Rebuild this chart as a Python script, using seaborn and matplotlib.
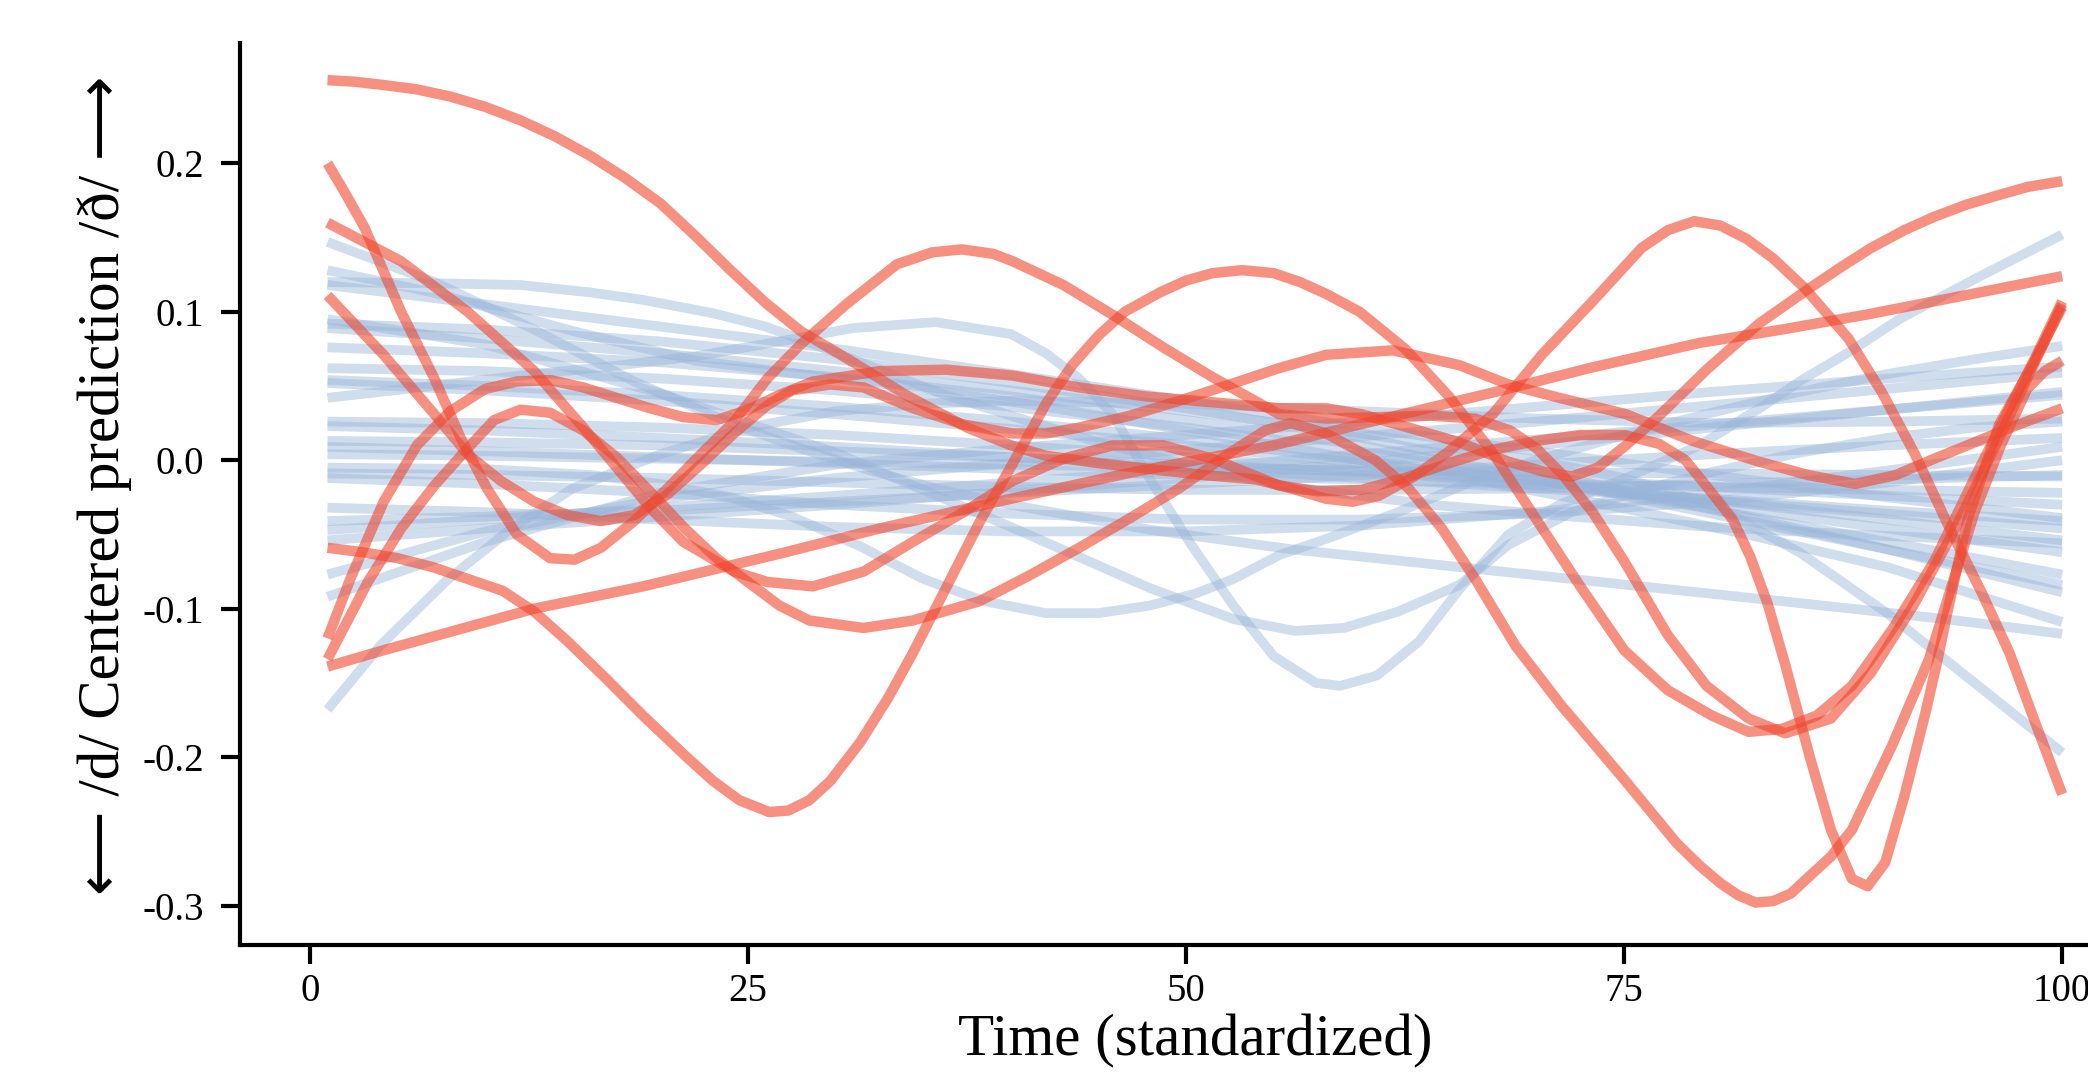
import matplotlib
matplotlib.use("Agg")
import matplotlib.pyplot as plt
from matplotlib.ticker import FormatStrFormatter
import pandas as pd
import seaborn as sns

# ---- highlighted (red) trajectories: time / centered prediction ----
red_a_t = [1, 2.5, 4, 6, 8, 10, 12, 14, 16, 18, 20, 22, 24, 26, 28, 31, 34, 37.5, 40, 42, 45, 48, 51, 54,
           56, 58, 59.5, 61, 63, 65, 67.5, 70.3, 73.2, 76, 77.5, 79, 80.5, 82, 83.5, 85.3, 87.8, 89.7, 91.6,
           93.5, 95.4, 97, 98.5, 100]
red_a_y = [.256, .255, .253, .25, .245, .238, .229, .218, .205, .19, .173, .151, .128, .106, .087, .066, .044,
           .022, .01, .003, -.002, -.006, -.010, -.013, -.019, -.026, -.028, -.024, -.011, .006, .031, .071,
           .107, .143, .155, .161, .158, .149, .136, .116, .082, .046, .004, -.044, -.089, -.13, -.178, -.225]

red_b_t = [1, 2, 3.1, 5.2, 7.1, 8.6, 10.1, 11.8, 13.7, 15.1, 16.6, 18.5, 20.4, 22.3, 24.2, 26.1, 28, 30.6,
           33.5, 35.5, 37.2, 39, 40.1, 43, 45.8, 48.7, 51.5, 55.3, 58, 61, 64, 66.5, 68.5, 70, 71.5, 73.2,
           75, 77.5, 79.7, 82.1, 84.2, 86.8, 89.1, 91.5, 93.9, 96, 98, 100]
red_b_y = [.2, .18, .157, .1, .055, .015, -.019, -.05, -.066, -.067, -.059, -.041, -.019, .004, .026, .055,
           .078, .105, .132, .14, .142, .139, .134, .118, .098, .076, .056, .031, .028, .029, .03, .028, .02,
           .008, -.01, -.035, -.068, -.118, -.152, -.174, -.184, -.174, -.143, -.098, -.046, .005, .055, .105]

red_c_t = [1, 3, 5, 7, 9, 11, 12.8, 14.7, 16.8, 19, 21.5, 23, 24.5, 26.2, 27.3, 28.5, 29.7, 31.4, 33, 34.4,
           36.3, 38.2, 40.5, 42, 43.5, 45, 46.5, 48.5, 50, 51.5, 53.2, 55, 56.5, 58, 59.9, 62.5, 65, 67.5,
           70, 72.5, 75, 77.5, 80, 82.1, 84, 86, 88, 90.3, 92.7, 95, 97, 98.5, 100]
red_c_y = [-.059, -.062, -.066, -.072, -.08, -.088, -.102, -.122, -.146, -.172, -.2, -.216, -.229, -.237,
           -.236, -.229, -.216, -.19, -.16, -.13, -.086, -.042, .006, .038, .064, .084, .1, .113, .121, .126,
           .128, .126, .12, .112, .1, .075, .043, .005, -.04, -.085, -.128, -.155, -.172, -.183, -.181, -.172,
           -.152, -.114, -.068, -.012, .035, .07, .107]

red_d_t = [1, 5.2, 9, 12.8, 15.6, 17.5, 19.4, 21.3, 24.2, 26.1, 28.7, 31.6, 34.4, 37.3, 40.1, 43, 45.8,
           48.7, 51.5, 55.3, 57.5, 60, 62.5, 65, 67.5, 70, 72.5, 75, 77, 78.5, 79.8, 81.2, 82.2, 83.2, 84.2,
           85.6, 86.8, 88, 88.9, 89.9, 91, 92.2, 92.9, 93.4, 94.6, 96.4, 98.3, 100]
red_d_y = [.160, .134, .1, .06, .022, -.005, -.032, -.055, -.075, -.082, -.085, -.075, -.055, -.035, -.014,
           .001, .01, .01, .001, -.017, -.021, -.02, -.012, -.002, .007, .013, .017, .017, .011, .0, -.019,
           -.04, -.065, -.097, -.138, -.2, -.249, -.282, -.287, -.271, -.226, -.17, -.134, -.105, -.04,
           .024, .064, .103]

red_e_t = [1, 4.2, 7.1, 9, 10.9, 12.8, 14.7, 16.6, 18.5, 20.4, 22.3, 24.2, 26.1, 27.5, 29.7, 31.6, 34.4,
           37.3, 40.1, 42, 43.9, 46.8, 49.6, 52.5, 55.3, 58, 61.8, 65.6, 68.4, 71.3, 75.1, 78.9, 82.7, 85.5,
           88.2, 90.5, 92.7, 95, 97.5, 100]
red_e_y = [.111, .071, .031, .004, -.014, -.028, -.037, -.041, -.037, -.023, -.003, .018, .037, .047, .051,
           .049, .035, .024, .018, .018, .022, .03, .04, .051, .062, .071, .074, .064, .051, .042, .031, .013,
           -.001, -.01, -.016, -.01, .001, .012, .024, .035]

red_f_t = [1, 2.3, 4.2, 6.1, 8, 10, 11.8, 13.7, 15.6, 17.5, 19.4, 21.3, 23.2, 25, 26.8, 28.7, 32.5, 36.3,
           40.1, 43.9, 47.7, 51.5, 55.3, 58, 60, 62.7, 65.6, 68.4, 70.5, 72, 73.5, 75.1, 77, 79.8, 82.7, 85.6,
           87.5, 89.1, 91, 92.7, 94.5, 96.2, 98, 100]
red_f_y = [-.12, -.08, -.028, .01, .033, .048, .053, .054, .049, .042, .035, .029, .027, .034, .044, .053,
           .06, .061, .057, .049, .043, .039, .035, .035, .031, .022, .012, -.001, -.008, -.011, -.005, .01,
           .03, .062, .092, .116, .131, .143, .155, .164, .172, .178, .184, .188]

red_g_t = [1, 3.3, 5.2, 7.1, 9, 10.5, 12, 13.7, 15.6, 17.5, 19.4, 21.4, 23.2, 25.1, 26.8, 28.5, 31.6, 34.4,
           38.2, 41, 43.9, 46.8, 49.6, 52.5, 54.5, 56, 58, 60.8, 62.7, 64.6, 66.5, 68.8, 71.4, 75, 78, 79.3,
           80.5, 81.5, 82.5, 83.5, 84.5, 85.6, 86.8, 88, 90.3, 92.4, 95, 96.5, 98, 99, 100]
red_g_y = [-.134, -.082, -.046, -.017, .008, .027, .034, .032, .02, .002, -.021, -.046, -.066, -.083, -.098,
           -.108, -.113, -.108, -.095, -.078, -.059, -.039, -.019, .005, .02, .025, .018, .0, -.019, -.046,
           -.08, -.125, -.165, -.215, -.258, -.273, -.285, -.293, -.298, -.297, -.292, -.28, -.267, -.249,
           -.192, -.134, -.035, .01, .048, .06, .067]

red_h_t = [1, 4.2, 12.8, 19, 26.8, 32.5, 40, 47, 55, 62, 68, 73, 79.3, 84, 88.8, 94, 100]
red_h_y = [-.139, -.128, -.1, -.085, -.063, -.046, -.026, -.008, .01, .03, .047, .062, .079, .088, .098,
           .11, .124]

# ---- background (blue) trajectories ----
blue_v_t = [1, 7, 12, 17, 22, 26.8, 31, 35.7, 40, 42, 43.9, 45.8, 47.9, 50.3, 52.7, 55, 57.4, 58.8, 60.9,
            63.3, 65.6, 68.4, 71.3, 75.1, 79.3, 83, 85, 88, 90.7, 95, 100]
blue_v_y = [.042, .05, .057, .063, .07, .08, .089, .093, .085, .072, .055, .031, -.012, -.057, -.098, -.132,
            -.15, -.152, -.145, -.122, -.087, -.05, -.03, -.012, .01, .037, .053, .074, .095, .122, .152]

blue_u43_t = [1, 10, 16, 20, 24, 27.5, 31.4, 35, 38.5, 42, 45, 47.9, 50.5, 52.7, 55.3, 58, 62.1, 66.8, 70,
              75, 80, 85, 90, 95, 100]
blue_u43_y = [-.005, -.006, -.01, -.016, -.025, -.038, -.058, -.08, -.095, -.103, -.103, -.098, -.09, -.08,
              -.064, -.053, -.035, -.012, .0, .017, .032, .046, .058, .068, .077]

blue_u57_t = [1, 10, 20, 30, 40, 47.9, 52.7, 56.2, 59, 62.1, 65.6, 68.4, 72, 76, 80, 85, 90, 95, 100]
blue_u57_y = [.095, .078, .045, .005, -.045, -.086, -.107, -.115, -.113, -.102, -.084, -.057, -.035, -.02,
              -.008, .005, .015, .022, .026]

blue_drop_t = [1, 10, 20, 30, 40, 50, 60, 70, 75, 80, 85, 90, 95, 100]
blue_drop_y = [.089, .082, .072, .06, .047, .033, .018, .0, -.012, -.03, -.062, -.103, -.15, -.197]

blue_rise_t = [1, 4, 7.8, 11.5, 15, 20, 25, 30, 35, 40, 50, 60, 70, 80, 90, 100]
blue_rise_y = [-.168, -.125, -.081, -.046, -.019, .004, .022, .033, .038, .04, .038, .033, .028, .025, .026,
               .028]

blue_bend_t = [1, 8, 12, 16, 19, 23, 26, 29, 32.5, 36, 40, 45, 50, 56, 64, 72, 80, 88, 94, 100]
blue_bend_y = [.12, .119, .118, .113, .108, .099, .09, .077, .061, .045, .03, .012, -.003, -.018, -.03,
               -.038, -.045, -.05, -.053, -.056]

blue_top_t = [1, 7.1, 12.8, 18.5, 24.2, 28, 32, 36, 40, 48, 56, 64, 72, 80, 88, 94, 100]
blue_top_y = [.147, .12, .088, .053, .024, .008, -.007, -.02, -.03, -.047, -.06, -.07, -.08, -.09, -.1,
              -.108, -.117]

blue_128_t = [1, 7, 15, 22, 28, 35, 42, 50, 58, 66, 74, 82, 90, 100]
blue_128_y = [.128, .113, .087, .067, .058, .048, .036, .02, .004, -.012, -.03, -.05, -.072, -.109]

# gentle ones, all read at the same times
blue_t = [1, 10, 20, 30, 40, 50, 60, 70, 80, 90, 100]
blue_g00 = [.118, .105, .09, .075, .058, .04, .022, .006, -.01, -.025, -.039]
blue_g01 = [.092, .088, .080, .068, .052, .035, .015, -.008, -.033, -.06, -.089]
blue_g02 = [.076, .072, .066, .056, .043, .027, .01, -.012, -.036, -.06, -.084]
blue_g03 = [.062, .06, .055, .047, .036, .022, .006, -.013, -.033, -.055, -.077]
blue_g04 = [.054, .05, .044, .036, .026, .014, .0, -.014, -.03, -.046, -.062]
blue_g05 = [.052, .047, .04, .031, .021, .01, -.002, -.014, -.027, -.04, -.054]
blue_g06 = [.026, .025, .022, .017, .01, .002, -.007, -.017, -.027, -.036, -.046]
blue_g07 = [.023, .02, .015, .009, .002, -.005, -.012, -.019, -.026, -.034, -.041]
blue_g08 = [.013, .012, .01, .006, .002, -.003, -.008, -.013, -.018, -.024, -.030]
blue_g09 = [.009, .006, .002, -.002, -.006, -.01, -.013, -.016, -.018, -.02, -.022]
blue_g10 = [.004, .003, .001, -.001, -.003, -.005, -.007, -.008, -.009, -.01, -.011]
blue_g11 = [-.009, -.01, -.012, -.015, -.018, -.02, -.02, -.019, -.016, -.013, -.010]
blue_g12 = [-.012, -.016, -.022, -.03, -.036, -.04, -.04, -.036, -.028, -.015, .0]
blue_g13 = [-.032, -.035, -.04, -.045, -.048, -.048, -.044, -.035, -.022, -.007, .009]
blue_g14 = [-.041, -.038, -.034, -.028, -.022, -.016, -.01, -.003, .004, .01, .015]
blue_g15 = [-.047, -.04, -.032, -.024, -.015, -.006, .004, .014, .024, .034, .044]
blue_g16 = [-.054, -.046, -.038, -.03, -.021, -.012, -.002, .01, .022, .034, .046]
blue_g17 = [-.077, -.048, -.026, -.012, -.002, .007, .016, .026, .037, .048, .059]
blue_g18 = [-.092, -.055, -.022, -.003, .008, .017, .026, .036, .046, .055, .063]

x_ticks = [0, 25, 50, 75, 100]
y_ticks = [-0.3, -0.2, -0.1, 0.0, 0.1, 0.2]

RED = (240 / 255, 70 / 255, 45 / 255)
BLUE = (152 / 255, 180 / 255, 216 / 255)


def to_frame(pairs):
    frames = []
    for i, (t, y) in enumerate(pairs):
        frames.append(pd.DataFrame({"time": t, "pred": y, "curve": i}))
    return pd.concat(frames, ignore_index=True)


red_df = to_frame([
    (red_a_t, red_a_y), (red_b_t, red_b_y), (red_c_t, red_c_y), (red_d_t, red_d_y),
    (red_e_t, red_e_y), (red_f_t, red_f_y), (red_g_t, red_g_y), (red_h_t, red_h_y),
])
blue_gentle = [blue_g00, blue_g01, blue_g02, blue_g03, blue_g04, blue_g05, blue_g06, blue_g07, blue_g08,
               blue_g09, blue_g10, blue_g11, blue_g12, blue_g13, blue_g14, blue_g15, blue_g16, blue_g17,
               blue_g18]
blue_df = to_frame([
    (blue_v_t, blue_v_y), (blue_u43_t, blue_u43_y), (blue_u57_t, blue_u57_y), (blue_drop_t, blue_drop_y),
    (blue_rise_t, blue_rise_y), (blue_bend_t, blue_bend_y), (blue_top_t, blue_top_y),
    (blue_128_t, blue_128_y),
] + [(blue_t, g) for g in blue_gentle])

sns.set_style("ticks")
plt.rcParams["font.family"] = ["Liberation Serif", "DejaVu Sans"]
plt.rcParams["axes.unicode_minus"] = False

fig = plt.figure(figsize=(20.88, 10.76), dpi=100)
ax = fig.add_axes([0.1149, 0.1217, 0.9063, 0.8383])

line_kw = dict(units="curve", estimator=None, sort=False, legend=False, ax=ax,
               solid_capstyle="butt", solid_joinstyle="round")
sns.lineplot(data=blue_df, x="time", y="pred", color=BLUE, alpha=0.45, linewidth=7, **line_kw)
sns.lineplot(data=red_df, x="time", y="pred", color=RED, alpha=0.6, linewidth=7.5, **line_kw)

ax.set_xlim(-4, 104)
ax.set_ylim(-0.3266, 0.281)
ax.set_xticks(x_ticks)
ax.set_yticks(y_ticks)
ax.yaxis.set_major_formatter(FormatStrFormatter("%.1f"))

sns.despine(ax=ax)
for side in ["left", "bottom"]:
    ax.spines[side].set_linewidth(3)
    ax.spines[side].set_color("black")
ax.tick_params(axis="both", which="major", length=14, width=3, color="black",
               labelsize=28, labelcolor="black", direction="out")
ax.tick_params(axis="y", pad=12)
ax.tick_params(axis="x", pad=6)

ax.set_xlabel("Time (standardized)", fontsize=42.5, color="black")
ax.set_ylabel("\u27f5 /d/ Centered prediction /ð/ \u27f6", fontsize=42.5, color="black")
ax.xaxis.set_label_coords(0.505, -0.077)
ax.yaxis.set_label_coords(-0.057, 0.51)

fig.savefig("out.png", dpi=100)
plt.close(fig)
